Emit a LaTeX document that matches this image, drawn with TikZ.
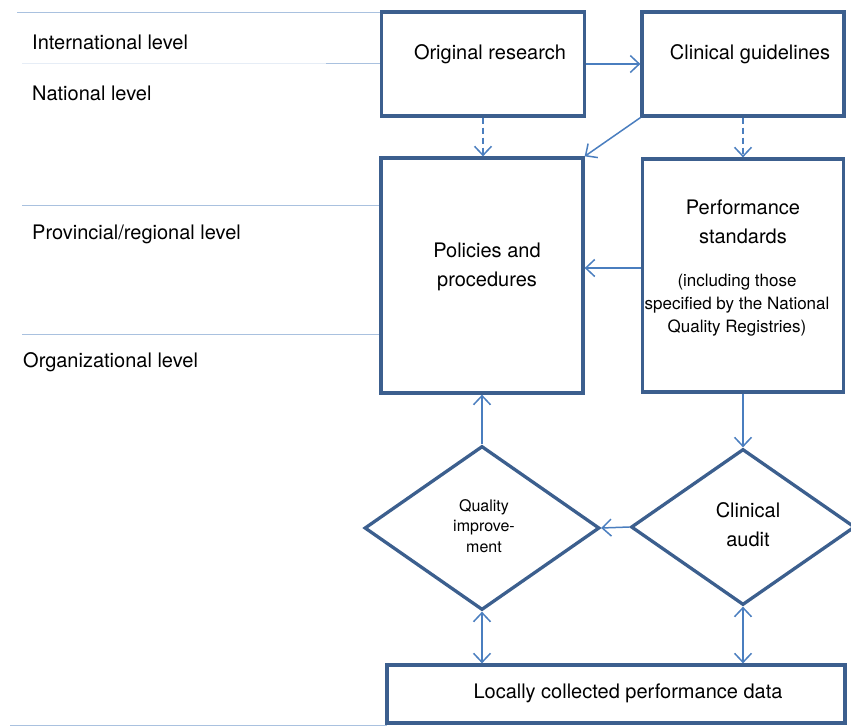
\documentclass[tikz,border=0pt]{standalone}
\usepackage{fontspec}
\setmainfont{TeX Gyre Heros}
\usepackage{tikz}
\usetikzlibrary{arrows.meta, shapes.geometric}
\usepackage{xcolor}

\definecolor{boxblue}{HTML}{3C5F8E}
\definecolor{arrowblue}{HTML}{4A7EBF}
\definecolor{lineblue}{HTML}{A9C1DF}
\definecolor{faintblue}{HTML}{E6EDF6}

\begin{document}
\begin{tikzpicture}[x=1pt, y=-1pt,
  box/.style={rectangle, draw=boxblue, line width=3.3pt, inner sep=0pt},
  diam/.style={diamond, draw=boxblue, line width=3.3pt, inner sep=0pt},
  txt/.style={align=center, inner sep=0pt, font=\fontsize{20}{29}\selectfont},
  small/.style={align=center, inner sep=0pt, font=\fontsize{17}{23}\selectfont},
  lvl/.style={anchor=west, inner sep=0pt, font=\fontsize{20}{24}\selectfont},
  level/.style={draw=lineblue, line width=0.8pt},
  arr/.style={draw=arrowblue, line width=1.5pt, -{Straight Barb[length=9pt, width=17pt]}},
  arrboth/.style={draw=arrowblue, line width=1.5pt, {Straight Barb[length=9pt, width=17pt]}-{Straight Barb[length=9pt, width=17pt]}}]
  \useasboundingbox (0,0) rectangle (851,726);

  % level lines and labels
  \draw[level] (17,12) -- (382,12);
  \draw[draw=faintblue, line width=0.8pt] (22,63) -- (326,63);
  \draw[level] (326,63) -- (382,63);
  \draw[level] (22,205) -- (381,205);
  \draw[level] (22,334) -- (381,334);
  \draw[level] (10,725) -- (387,725);
  \node[lvl] (intl) at (32,42) {International level};
  \node[lvl] (natl) at (32,93) {National level};
  \node[lvl] (prov) at (32,234) {Provincial/regional level};
  \node[lvl] (org) at (23,362) {Organizational level};

  % boxes
  \node[box, minimum width=203pt, minimum height=104pt] (orig) at (483,64) {};
  \node[box, minimum width=202pt, minimum height=104pt] (guide) at (743,64) {};
  \node[box, minimum width=202pt, minimum height=235pt] (pol) at (482,275.5) {};
  \node[box, minimum width=201pt, minimum height=233pt] (perf) at (743,275.5) {};
  \node[diam, minimum width=235pt, minimum height=164pt] (qi) at (482,528) {};
  \node[diam, minimum width=224pt, minimum height=156pt] (audit) at (743,527) {};
  \node[box, minimum width=458pt, minimum height=58pt] (data) at (616,694) {};

  % texts
  \node[txt] (origtxt) at (490,54) {Original research};
  \node[txt] (guidetxt) at (750,54) {Clinical guidelines};
  \node[txt] (poltxt) at (487,266.5) {Policies and\\procedures};
  \node[txt] (perftxt) at (743,222) {Performance\\standards};
  \node[small] (perfnote) at (737,305) {(including those\\specified by the National\\Quality Registries)};
  \node[align=center, inner sep=0pt, font=\fontsize{16}{20.5}\selectfont] (qitxt) at (484,526) {Quality\\improve-\\ment};
  \node[txt] (audittxt) at (748,525) {Clinical\\audit};
  \node[txt] (datatxt) at (628,693) {Locally collected performance data};

  % connectors
  \draw[arr] (orig.east) -- (guide.west);
  \draw[arr, dash pattern=on 6pt off 4pt] (orig.south) -- (orig.south |- pol.north);
  \draw[arr, dash pattern=on 6pt off 4pt] (guide.south) -- (perf.north);
  \draw[arr] (guide.south west) -- (pol.north east);
  \draw[arr] ([yshift=7.5pt]perf.west) -- ([yshift=7.5pt]pol.east);
  \draw[arr] (perf.south) -- (audit.north);
  \draw[arr] (qi.north) -- (pol.south);
  \draw[arr] (audit.west) -- (qi.east);
  \draw[arrboth] (qi.south) -- (qi.south |- data.north);
  \draw[arrboth] (audit.south) -- (audit.south |- data.north);
\end{tikzpicture}
\end{document}
